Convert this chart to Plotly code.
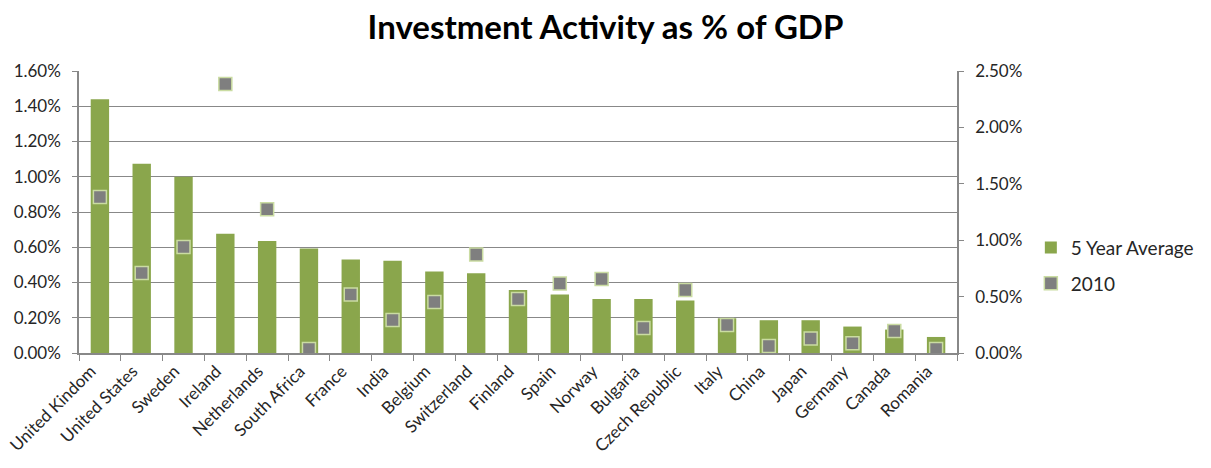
import plotly.graph_objects as go

countries = ["United Kindom", "United States", "Sweden", "Ireland", "Netherlands",
             "South Africa", "France", "India", "Belgium", "Switzerland", "Finland",
             "Spain", "Norway", "Bulgaria", "Czech Republic", "Italy", "China",
             "Japan", "Germany", "Canada", "Romania"]
five_year_avg = [0.0144, 0.01074, 0.0100, 0.00676, 0.00635, 0.00593, 0.0053, 0.00523,
                 0.00462, 0.00453, 0.00358, 0.00332, 0.00307, 0.00307, 0.00298,
                 0.00197, 0.00186, 0.00186, 0.0015, 0.00133, 0.00091]
y2010 = [0.01384, 0.0071, 0.0094, 0.02384, 0.01275, 0.00035, 0.00518, 0.00293,
         0.00453, 0.00873, 0.00479, 0.00616, 0.00657, 0.00222, 0.00559, 0.00249,
         0.00062, 0.00128, 0.00086, 0.00195, 0.00035]

FONT = "Lato"
TXT = "#262626"
AX = "#888888"
TICKSIZE = 17

fig = go.Figure()
fig.add_trace(go.Bar(x=countries, y=five_year_avg, name="5 Year Average",
                     legendgroup="a",
                     marker=dict(color="#8aa64c", line=dict(width=0)), yaxis="y"))
fig.add_trace(go.Scatter(x=countries, y=y2010, name="2010", mode="markers",
                         legendgroup="b",
                         marker=dict(symbol="square", size=13, color="#7f7f7f",
                                     line=dict(color="#cadcA2", width=1.5)),
                         yaxis="y2"))

fig.update_layout(
    width=1211, height=468,
    margin=dict(l=79, r=241, t=71, b=115),
    paper_bgcolor="white", plot_bgcolor="white",
    font=dict(family=FONT, size=TICKSIZE, color=TXT),
    title=dict(text="<b>Investment Activity as % of GDP</b>", x=0.5, xanchor="center",
               xref="container", y=0.942, yref="container", yanchor="middle",
               font=dict(family=FONT, size=33, color="#000000")),
    bargap=0.56,
    showlegend=True,
    legend=dict(x=1.0841, xanchor="left", y=0.31, yanchor="middle",
                font=dict(family=FONT, size=19, color=TXT), tracegroupgap=8,
                traceorder="grouped", itemwidth=30),
    xaxis=dict(type="category", range=[-0.5, len(countries) - 0.5],
               tickangle=-45, tickson="boundaries", automargin=False,
               ticklabelshift=-9,
               ticks="outside", ticklen=6, tickcolor=AX, showline=True,
               linecolor=AX, linewidth=1.5, showgrid=False,
               tickfont=dict(family=FONT, size=TICKSIZE, color=TXT)),
    yaxis=dict(range=[0, 0.016], dtick=0.002, tickformat=".2%", showgrid=True,
               automargin=False, ticklabelstandoff=8,
               gridcolor=AX, gridwidth=1.2, showline=True, linecolor=AX, linewidth=1.5,
               ticks="outside", ticklen=5, tickcolor=AX, zeroline=False,
               tickfont=dict(family=FONT, size=TICKSIZE, color=TXT)),
    yaxis2=dict(range=[0, 0.025], dtick=0.005, tickformat=".2%", overlaying="y",
                automargin=False, ticklabelstandoff=8,
                side="right", showgrid=False, showline=True, linecolor=AX, linewidth=1.5,
                ticks="outside", ticklen=5, tickcolor=AX, zeroline=False,
                tickfont=dict(family=FONT, size=TICKSIZE, color=TXT)),
)

fig.write_html("out.html", config={"displayModeBar": False},
               post_script="document.body.style.margin='0';document.body.style.padding='0';")
